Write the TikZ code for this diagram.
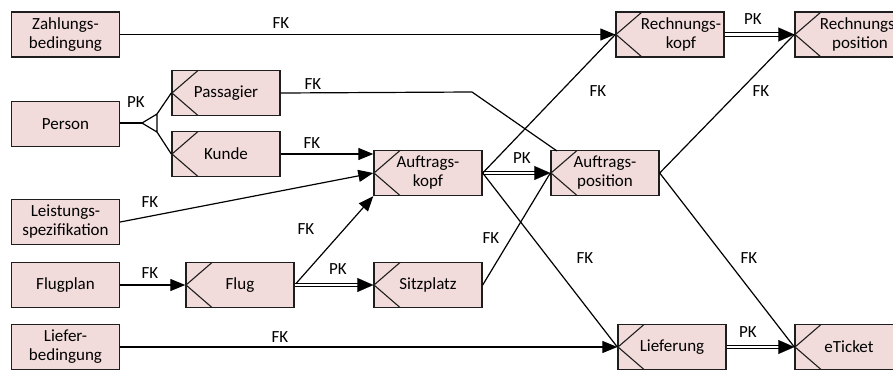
\documentclass[tikz,border=0pt]{standalone}
\usepackage{fontspec}
\setmainfont{Carlito}
\usetikzlibrary{arrows.meta,decorations.markings}
\definecolor{boxfill}{RGB}{242,220,219}
\definecolor{edge}{RGB}{30,30,30}
\begin{document}
\begin{tikzpicture}[x=1pt,y=-1pt,
 ent/.style={draw=edge, line width=1.4pt, fill=boxfill, minimum width=108pt, minimum height=45pt, inner sep=0pt, align=center, font=\fontsize{17}{19}\selectfont},
 crow/.style={ent, path picture={\draw[line width=1.1pt] ([xshift=26pt]path picture bounding box.north west) -- (path picture bounding box.west) -- ([xshift=26pt]path picture bounding box.south west);}},
 txt/.style={inner sep=0pt, align=center, font=\fontsize{17}{19}\selectfont},
 lbl/.style={inner sep=0pt, font=\fontsize{17}{19}\selectfont},
 conn/.style={line width=1.2pt},
 arr/.style={conn, -{Triangle[length=15pt,width=12pt]}},
 pk/.style={line width=1.1pt, double, double distance=2.6pt, shorten >=11pt,
   postaction={draw=none, decorate, decoration={markings, mark=at position 1 with {\arrow[line width=0.1pt]{Triangle[length=16pt,width=14pt]}}}}}
]
\useasboundingbox (0,0) rectangle (893,370);
\clip (0,0) rectangle (893,370);

% entities without crow's foot
\node[ent] (zb) at (65.5,34.5) {Zahlungs-\\bedingung};
\node[ent] (person) at (65.5,124) {Person};
\node[ent] (leist) at (65.5,222) {Leistungs-\\spezifikation};
\node[ent] (fp) at (65.5,285) {Flugplan};
\node[ent] (lb) at (65.5,347) {Liefer-\\bedingung};

% entities with crow's foot
\node[crow] (pass) at (226,93) {Passagier};
\node[crow] (kunde) at (226,154) {Kunde};
\node[crow] (flug) at (240,285) {Flug};
\node[crow] (ak) at (428,173) {Auftrags-\\kopf};
\node[crow] (sitz) at (428,285) {Sitzplatz};
\node[crow] (ap) at (605,173) {Auftrags-\\position};
\node[crow] (rk) at (670,34.5) {};
\node[txt] at (681,34.5) {Rechnungs-\\kopf};
\node[crow] (rp) at (849,34.5) {};
\node[txt] at (860,34.5) {Rechnungs-\\position};
\node[crow] (lief) at (672,347) {Lieferung};
\node[crow] (et) at (849,347) {eTicket};

% subtype triangle
\coordinate (tri) at (142,123);
\coordinate (triA) at (157,114);
\coordinate (triB) at (157,132);
\draw[conn] (person.east |- tri) -- (tri);
\draw[conn] (tri) -- (triA) -- (triB) -- cycle;
\draw[conn] (triA) -- (pass.west);
\draw[conn] (triB) -- (kunde.west);
\node[lbl] at (136,102) {PK};

% connectors
\draw[arr] (zb.east) -- (rk.west);
\node[lbl] at (281,23) {FK};

\coordinate (pbend) at (472,92);
\coordinate (apin) at (557,151);
\draw[conn] (pass.east) -- (pbend) -- (apin);
\node[lbl] at (313,84) {FK};

\draw[arr] (kunde.east) -- (ak.west |- kunde.east);
\node[lbl] at (312,143) {FK};

\draw[arr] (leist.east) -- (ak.west);
\node[lbl] at (150,202) {FK};

\draw[arr] (fp.east) -- (flug.west);
\node[lbl] at (150,273) {FK};

\draw[arr] (flug.east) -- (ak.south west);
\node[lbl] at (306,229) {FK};

\draw[pk] (flug.east) -- (sitz.west);
\node[lbl] at (338,269) {PK};

\draw[pk] (ak.east) -- (ap.west);
\node[lbl] at (522,158) {PK};

\draw[conn] (ak.east) -- (rk.west);
\node[lbl] at (598,91) {FK};

\draw[conn] (ak.east) -- (lief.west);
\node[lbl] at (585,258) {FK};

\draw[conn] (sitz.east) -- (ap.west);
\node[lbl] at (491,238) {FK};

\draw[conn] (ap.east) -- (rp.west);
\node[lbl] at (761,91) {FK};

\draw[conn] (ap.east) -- (et.west);
\node[lbl] at (749,258) {FK};

\draw[pk] (rk.east) -- (rp.west);
\node[lbl] at (753,19) {PK};

\draw[arr] (lb.east) -- (lief.west);
\node[lbl] at (280,337) {FK};

\draw[pk] (lief.east) -- (et.west);
\node[lbl] at (748,332) {PK};
\end{tikzpicture}
\end{document}
